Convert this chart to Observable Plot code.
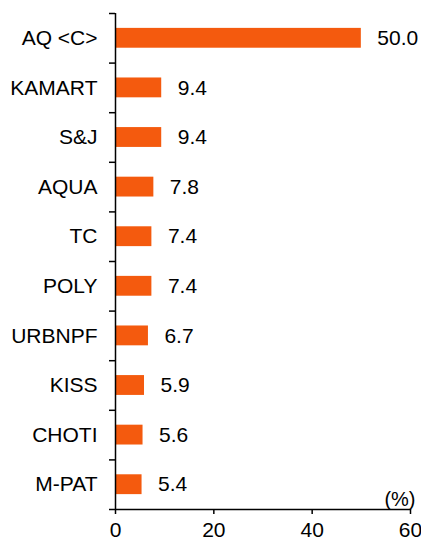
<!DOCTYPE html>
<html>
<head>
<meta charset="utf-8">
<script src="https://cdn.jsdelivr.net/npm/d3@7"></script>
<script src="https://cdn.jsdelivr.net/npm/@observablehq/plot@0.6"></script>
<style>
  html, body { margin: 0; padding: 0; background: #fff; }
</style>
</head>
<body>
<div id="chart"></div>
<script>
const categories = ["AQ <C>", "KAMART", "S&J", "AQUA", "TC", "POLY", "URBNPF", "KISS", "CHOTI", "M-PAT"];
const values = [50.0, 9.4, 9.4, 7.8, 7.4, 7.4, 6.7, 5.9, 5.6, 5.4];
const xTicks = [0, 20, 40, 60];
const unitLabel = "(%)";

const data = categories.map((name, i) => ({name, value: values[i], i}));
const catIdx = d3.range(categories.length);
const bounds = d3.range(categories.length + 1).map(i => i - 0.5);

const chart = Plot.plot({
  width: 421,
  height: 542,
  marginLeft: 115,
  marginRight: 11,
  marginTop: 13,
  marginBottom: 33,
  style: {fontFamily: "'Liberation Sans', Arial, sans-serif", fontSize: "21px", color: "#000", background: "#fff"},
  x: {domain: [0, 60]},
  y: {domain: [-0.5, categories.length - 0.5], reverse: true},
  marks: [
    Plot.rect(data, {x1: () => 0, x2: "value", y1: d => d.i - 0.2, y2: d => d.i + 0.2, fill: "#F45A0E"}),
    Plot.text(data, {x: "value", y: "i", text: d => d.value.toFixed(1), textAnchor: "start", dx: 16, fontSize: 21, fill: "#000"}),
    Plot.axisY(catIdx, {tickSize: 0, tickPadding: 18, tickFormat: i => categories[i], fontSize: 21, label: null}),
    Plot.axisY(bounds, {tickSize: 6, tickFormat: () => "", label: null, strokeWidth: 1.5}),
    Plot.axisX(xTicks, {tickSize: 5, tickPadding: 8, fontSize: 21, label: null, strokeWidth: 1.5}),
    Plot.ruleX([0], {stroke: "#000", strokeWidth: 1.5}),
    Plot.ruleY([categories.length - 0.5], {stroke: "#000", strokeWidth: 1.5}),
    Plot.text([unitLabel], {frameAnchor: "bottom-right", text: d => d, textAnchor: "end", lineAnchor: "bottom", dx: 5, dy: -4, fontSize: 20, fill: "#000"})
  ]
});
document.getElementById("chart").appendChild(chart);
</script>
</body>
</html>
